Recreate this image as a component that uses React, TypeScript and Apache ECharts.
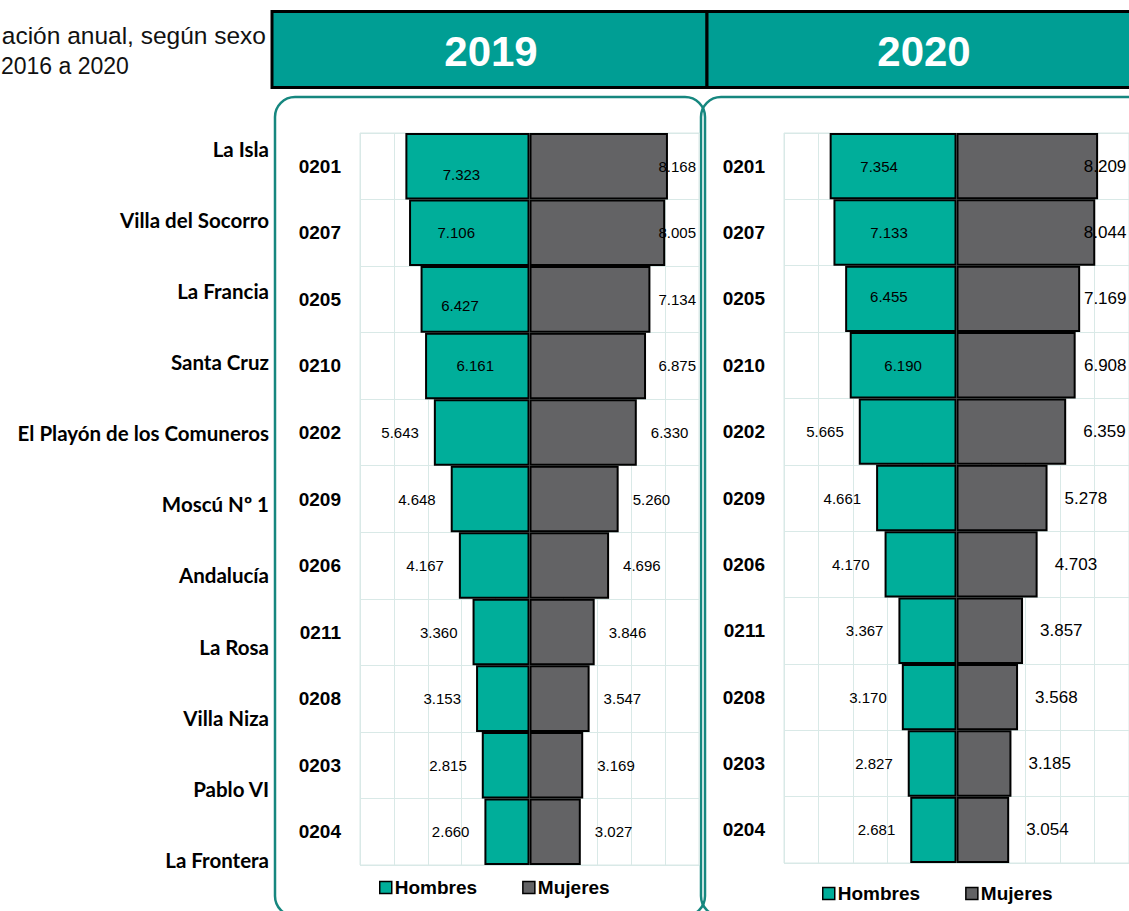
import React, { useEffect, useRef } from "react";
import * as echarts from "echarts";

const codes = ["0201", "0207", "0205", "0210", "0202", "0209", "0206", "0211", "0208", "0203", "0204"];
const names = [
  "La Isla", "Villa del Socorro", "La Francia", "Santa Cruz", "El Playón de los Comuneros",
  "Moscú Nº 1", "Andalucía", "La Rosa", "Villa Niza", "Pablo VI", "La Frontera",
];
const years = ["2019", "2020"];
const seriesNames = ["Hombres", "Mujeres"];
const hombres2019 = [7323, 7106, 6427, 6161, 5643, 4648, 4167, 3360, 3153, 2815, 2660];
const mujeres2019 = [8168, 8005, 7134, 6875, 6330, 5260, 4696, 3846, 3547, 3169, 3027];
const hombres2020 = [7354, 7133, 6455, 6190, 5665, 4661, 4170, 3367, 3170, 2827, 2681];
const mujeres2020 = [8209, 8044, 7169, 6908, 6359, 5278, 4703, 3857, 3568, 3185, 3054];
const titleLines = ["ación anual, según sexo", "2016 a 2020"];
const axisMax = 10000;
const axisStep = 2000;

const TEAL = "#00ae9a";
const GRAY = "#636365";
const HEADER = "#009e94";
const FRAME = "#16877f";
const GRID = "#d9e9e7";
const FONT = "Arial, 'Liberation Sans', sans-serif";

const fmt = (v: number) => String(Math.abs(v)).replace(/\B(?=(\d{3})+(?!\d))/g, ".");

const panels = [
  {
    hombres: hombres2019, mujeres: mujeres2019,
    left: 360, width: 339, top: 133, height: 732,
    hFont: 15, mFont: 15, hDist: 15, mDist: 14,
    insideOffsets: [[-6, 8], [-13, 0], [-15, 6], [-2, 0]],
    legendLeft: 374, legendTop: 873,
    frameX: 275, frameW: 430, headX: 272, headW: 435,
  },
  {
    hombres: hombres2020, mujeres: mujeres2020,
    left: 784, width: 348, top: 133, height: 730,
    hFont: 15, mFont: 17, hDist: 15, mDist: 17,
    insideOffsets: [[-14, 0], [-6, 0], [-12, -2], [0, 0]],
    legendLeft: 817, legendTop: 879,
    frameX: 701, frameW: 460, headX: 707, headW: 440,
  },
];

export default function App() {
  const ref = useRef<HTMLDivElement>(null);

  useEffect(() => {
    if (!ref.current) return;
    const chart = echarts.init(ref.current, undefined, { renderer: "svg" });

    const grid: any[] = [];
    const xAxis: any[] = [];
    const yAxis: any[] = [];
    const series: any[] = [];
    const legend: any[] = [];
    const graphic: any[] = [];

    panels.forEach((p, k) => {
      grid.push({ left: p.left, top: p.top, width: p.width, height: p.height, show: true, borderColor: GRID, borderWidth: 1 });
      xAxis.push({
        gridIndex: k, type: "value", min: -axisMax, max: axisMax, interval: axisStep,
        axisLabel: { show: false }, axisLine: { show: false }, axisTick: { show: false },
        splitLine: { show: true, lineStyle: { color: GRID, width: 1 } },
      });
      yAxis.push({
        gridIndex: k, type: "category", data: codes, inverse: true,
        axisLine: { show: false }, axisTick: { show: false },
        axisLabel: { color: "#000", fontFamily: FONT, fontWeight: "bold", fontSize: 19, margin: 19, align: "right" },
        splitLine: { show: true, lineStyle: { color: GRID, width: 1 } },
      });
      const half = p.width / 2;
      series.push({
        name: seriesNames[0], type: "bar", xAxisIndex: k, yAxisIndex: k, stack: "p" + k,
        barCategoryGap: "0%",
        itemStyle: { color: TEAL, borderColor: "#000", borderWidth: 2 },
        label: {
          show: true, color: "#000", fontFamily: FONT, fontSize: p.hFont,
          formatter: (d: any) => fmt(d.value),
        },
        data: p.hombres.map((v, i) => ({
          value: -v,
          label: i < p.insideOffsets.length
            ? { position: "inside", offset: p.insideOffsets[i] }
            : { position: "left", distance: p.hDist },
        })),
        z: 3,
      });
      series.push({
        name: seriesNames[1], type: "bar", xAxisIndex: k, yAxisIndex: k, stack: "p" + k,
        barCategoryGap: "0%",
        itemStyle: { color: GRAY, borderColor: "#000", borderWidth: 2 },
        label: {
          show: true, color: "#000", fontFamily: FONT, fontSize: p.mFont, position: "right",
          formatter: (d: any) => fmt(d.value),
        },
        data: p.mujeres.map((v) => {
          const barW = (v * half) / axisMax;
          const textW = p.mFont * 2.5;
          const maxD = half - barW - textW - 3;
          return { value: v, label: { distance: Math.min(p.mDist, maxD) } };
        }),
        z: 3,
      });
      legend.push({
        data: seriesNames, left: p.legendLeft, top: p.legendTop, orient: "horizontal",
        itemWidth: 12, itemHeight: 12, itemGap: 45, icon: "rect",
        itemStyle: { borderColor: "#000", borderWidth: 1.5 },
        textStyle: { color: "#000", fontFamily: FONT, fontWeight: "bold", fontSize: 19, padding: [0, 0, 0, -2] },
        selectedMode: false,
      });

      // rounded frame
      graphic.push({
        type: "rect", z: 0, silent: true,
        shape: { x: p.frameX, y: 97, width: p.frameW, height: 819, r: 20 },
        style: { fill: "none", stroke: FRAME, lineWidth: 2.5 },
      });
      // header box
      graphic.push({
        type: "rect", z: 1, silent: true,
        shape: { x: p.headX, y: 11.5, width: p.headW, height: 76 },
        style: { fill: HEADER, stroke: "#000", lineWidth: 3 },
      });
      graphic.push({
        type: "text", z: 2, silent: true,
        x: k === 0 ? 491 : 924, y: 51,
        style: {
          text: years[k], fill: "#fff", font: `bold 42px ${FONT}`,
          textAlign: "center", textVerticalAlign: "middle",
        },
      });
    });

    names.forEach((n, i) => {
      graphic.push({
        type: "text", silent: true, x: 269, y: 148.5 + i * 71.15,
        style: {
          text: n, fill: "#000", font: "bold 20.5px Lato, 'Open Sans', sans-serif",
          textAlign: "right", textVerticalAlign: "middle",
        },
      });
    });

    graphic.push({
      type: "text", silent: true, x: 266, y: 35,
      style: {
        text: titleLines[0], fill: "#111", font: `24.5px ${FONT}`,
        textAlign: "right", textVerticalAlign: "middle",
      },
    });
    graphic.push({
      type: "text", silent: true, x: 1, y: 66,
      style: {
        text: titleLines[1], fill: "#111", font: `23px ${FONT}`,
        textAlign: "left", textVerticalAlign: "middle",
      },
    });

    chart.setOption({
      animation: false,
      backgroundColor: "#fff",
      grid, xAxis, yAxis, series, legend, graphic,
    });

    return () => chart.dispose();
  }, []);

  return (
    <div
      ref={ref}
      style={{ position: "fixed", left: 0, top: 0, width: 1129, height: 911 }}
    />
  );
}
